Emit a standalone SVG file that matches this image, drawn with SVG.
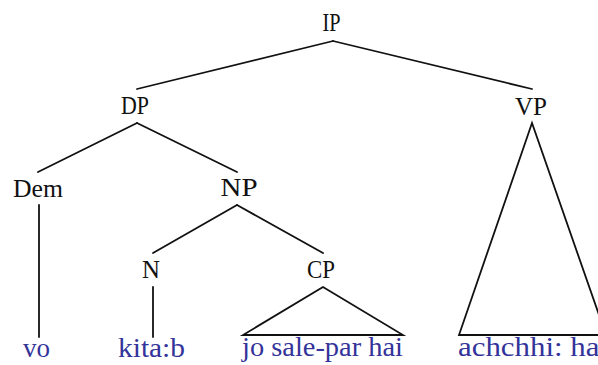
<svg xmlns="http://www.w3.org/2000/svg" width="598" height="365" viewBox="0 0 598 365">
<style>
.lab{font-family:"Liberation Serif","Times New Roman",serif;font-size:25px;fill:#111;text-anchor:middle}
.word{font-family:"Liberation Serif","Times New Roman",serif;font-size:27px;fill:#33339a}
.edge{stroke:#111;stroke-width:1.8;fill:none;stroke-linecap:round;stroke-linejoin:miter}
</style>
<rect width="598" height="365" fill="#fff"/>
<g id="connectors">
<line class="edge" x1="333" y1="41" x2="137" y2="89"/>
<line class="edge" x1="333" y1="41" x2="532" y2="89"/>
<line class="edge" x1="137" y1="123" x2="38" y2="172"/>
<line class="edge" x1="137" y1="123" x2="237" y2="172"/>
<polygon class="edge" points="532,123 459,335 606,335"/>
<line class="edge" x1="39" y1="205" x2="39" y2="337"/>
<line class="edge" x1="237" y1="205" x2="153" y2="253"/>
<line class="edge" x1="237" y1="205" x2="323" y2="253"/>
<line class="edge" x1="153" y1="287" x2="153" y2="337"/>
<polygon class="edge" points="323,287 243,335 403,335"/>
</g>
<g id="IP"><text class="lab" x="331.5" y="31" textLength="18" lengthAdjust="spacingAndGlyphs">IP</text></g>
<g id="DP"><text class="lab" x="135" y="114" textLength="28" lengthAdjust="spacingAndGlyphs">DP</text></g>
<g id="VP"><text class="lab" x="531" y="115" textLength="32" lengthAdjust="spacingAndGlyphs">VP</text></g>
<g id="Dem"><text class="lab" x="38" y="197" textLength="50" lengthAdjust="spacingAndGlyphs">Dem</text></g>
<g id="NP"><text class="lab" x="239" y="196" textLength="37" lengthAdjust="spacingAndGlyphs">NP</text></g>
<g id="N"><text class="lab" x="151" y="278" textLength="18" lengthAdjust="spacingAndGlyphs">N</text></g>
<g id="CP"><text class="lab" x="321" y="278" textLength="28" lengthAdjust="spacingAndGlyphs">CP</text></g>
<g id="vo"><text class="word" x="23" y="357" textLength="27" lengthAdjust="spacingAndGlyphs">vo</text></g>
<g id="kitab"><text class="word" x="118" y="357" textLength="67" lengthAdjust="spacingAndGlyphs">kita:b</text></g>
<g id="josaleparhai"><text class="word" x="242" y="356" textLength="161" lengthAdjust="spacingAndGlyphs">jo sale-par hai</text></g>
<g id="achchhihai"><text class="word" x="458" y="356" textLength="150" lengthAdjust="spacingAndGlyphs">achchhi: hai</text></g>
</svg>
